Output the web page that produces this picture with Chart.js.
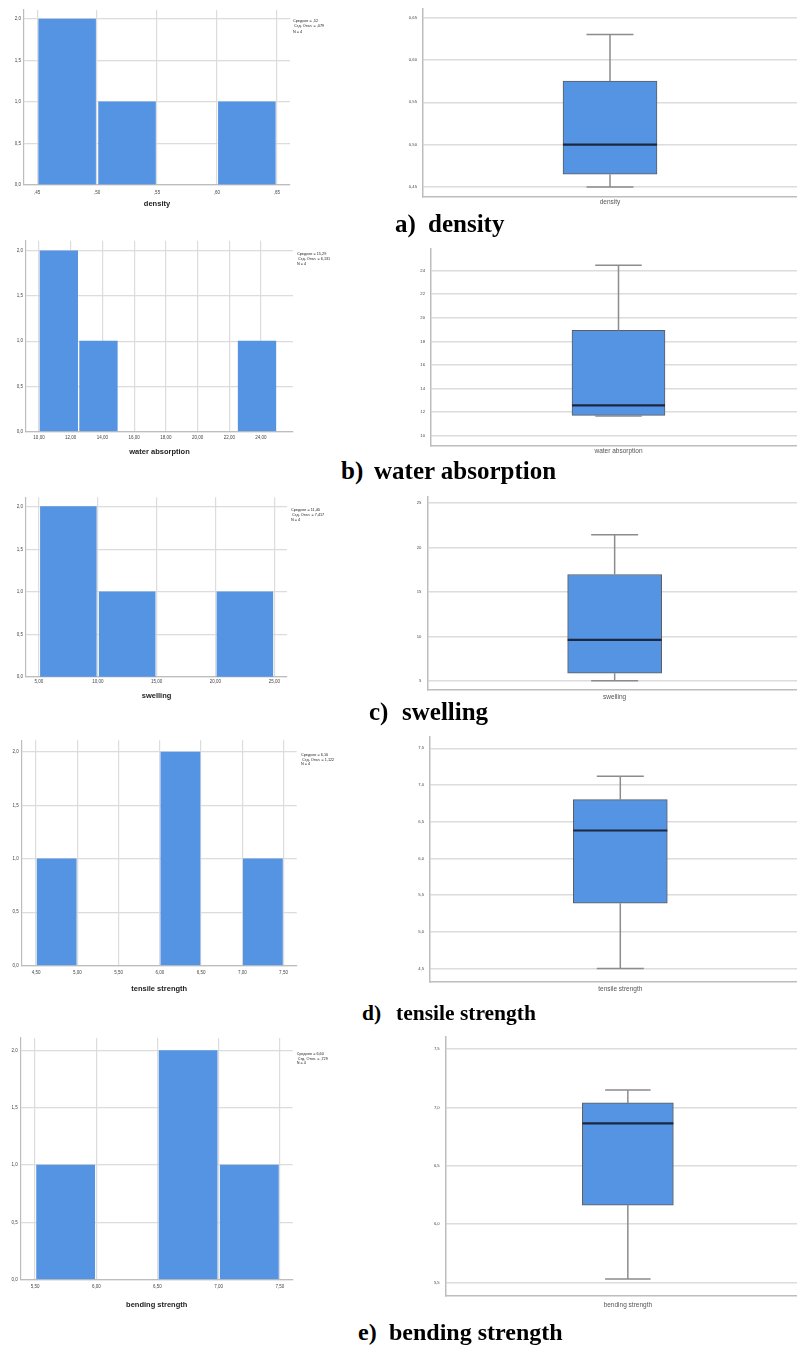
<!DOCTYPE html>
<html>
<head>
<meta charset="utf-8">
<script src="https://cdn.jsdelivr.net/npm/chart.js@4"></script>
<style>
  html, body { margin: 0; padding: 0; background: #fff; }
  body { width: 797px; height: 1347px; position: relative; overflow: hidden; }
  canvas { position: absolute; }
  .cap { position: absolute; font-family: "Liberation Serif", "Times New Roman", serif; font-weight: bold;
         white-space: pre; line-height: 1; color: #000; }
</style>
</head>
<body>
<canvas id="histDensity"></canvas><canvas id="boxDensity"></canvas>
<canvas id="histWater"></canvas><canvas id="boxWater"></canvas>
<canvas id="histSwelling"></canvas><canvas id="boxSwelling"></canvas>
<canvas id="histTensile"></canvas><canvas id="boxTensile"></canvas>
<canvas id="histBending"></canvas><canvas id="boxBending"></canvas>

<div class="cap" style="left:395px;top:211px;font-size:25px">a)</div>
<div class="cap" style="left:428px;top:211px;font-size:25px">density</div>
<div class="cap" style="left:341px;top:458px;font-size:25px">b)</div>
<div class="cap" style="left:374px;top:458px;font-size:25px">water absorption</div>
<div class="cap" style="left:369px;top:699px;font-size:25px">c)</div>
<div class="cap" style="left:402px;top:699px;font-size:25px">swelling</div>
<div class="cap" style="left:362px;top:1003px;font-size:21.5px">d)</div>
<div class="cap" style="left:396px;top:1003px;font-size:21.5px">tensile strength</div>
<div class="cap" style="left:358px;top:1320px;font-size:24px">e)</div>
<div class="cap" style="left:389px;top:1320px;font-size:24px">bending strength</div>

<script>
// ---- frequency axis shared by all histograms ----
const countTicks = [0, 0.5, 1, 1.5, 2];
const countLabels = ['0,0', '0,5', '1,0', '1,5', '2,0'];

// ---- density ----
const densityBins = [0.475, 0.525, 0.575, 0.625];
const densityCounts = [2, 1, 0, 1];
const densityTicks = [0.45, 0.50, 0.55, 0.60, 0.65];
const densityTickLabels = [',45', ',50', ',55', ',60', ',65'];
const densityStats = ['Среднее = ,52', ' Стд. Откл. = ,079', 'N = 4'];
const densityBox = [0.45, 0.465, 0.50, 0.575, 0.63];          // min, Q1, median, Q3, max
const densityBoxTicks = [0.45, 0.50, 0.55, 0.60, 0.65];
const densityBoxLabels = ['0,45', '0,50', '0,55', '0,60', '0,65'];

// ---- water absorption ----
const waterBins = [11.25, 13.75, 16.25, 18.75, 21.25, 23.75];
const waterCounts = [2, 1, 0, 0, 0, 1];
const waterTicks = [10, 12, 14, 16, 18, 20, 22, 24];
const waterTickLabels = ['10,00', '12,00', '14,00', '16,00', '18,00', '20,00', '22,00', '24,00'];
const waterStats = ['Среднее = 15,29', ' Стд. Откл. = 6,131', 'N = 4'];
const waterBox = [11.68, 11.73, 12.57, 18.93, 24.45];
const waterBoxTicks = [10, 12, 14, 16, 18, 20, 22, 24];
const waterBoxLabels = ['10', '12', '14', '16', '18', '20', '22', '24'];

// ---- swelling ----
const swellingBins = [7.5, 12.5, 17.5, 22.5];
const swellingCounts = [2, 1, 0, 1];
const swellingTicks = [5, 10, 15, 20, 25];
const swellingTickLabels = ['5,00', '10,00', '15,00', '20,00', '25,00'];
const swellingStats = ['Среднее = 11,40', ' Стд. Откл. = 7,417', 'N = 4'];
const swellingBox = [5.0, 5.86, 9.6, 16.97, 21.44];
const swellingBoxTicks = [5, 10, 15, 20, 25];
const swellingBoxLabels = ['5', '10', '15', '20', '25'];

// ---- tensile strength ----
const tensileBins = [4.75, 5.25, 5.75, 6.25, 6.75, 7.25];
const tensileCounts = [1, 0, 0, 2, 0, 1];
const tensileTicks = [4.5, 5.0, 5.5, 6.0, 6.5, 7.0, 7.5];
const tensileTickLabels = ['4,50', '5,00', '5,50', '6,00', '6,50', '7,00', '7,50'];
const tensileStats = ['Среднее = 6,10', ' Стд. Откл. = 1,122', 'N = 4'];
const tensileBox = [4.5, 5.39, 6.38, 6.80, 7.12];
const tensileBoxTicks = [4.5, 5.0, 5.5, 6.0, 6.5, 7.0, 7.5];
const tensileBoxLabels = ['4,5', '5,0', '5,5', '6,0', '6,5', '7,0', '7,5'];

// ---- bending strength ----
const bendingBins = [5.75, 6.25, 6.75, 7.25];
const bendingCounts = [1, 0, 2, 1];
const bendingTicks = [5.5, 6.0, 6.5, 7.0, 7.5];
const bendingTickLabels = ['5,50', '6,00', '6,50', '7,00', '7,50'];
const bendingStats = ['Среднее = 6,60', ' Стд. Откл. = ,729', 'N = 4'];
const bendingBox = [5.53, 6.164, 6.865, 7.04, 7.15];
const bendingBoxTicks = [5.5, 6.0, 6.5, 7.0, 7.5];
const bendingBoxLabels = ['5,5', '6,0', '6,5', '7,0', '7,5'];

// ---- styling ----
const SANS = '"Liberation Sans", Arial, sans-serif';
const BAR = '#5594e2';
const GRID = '#dcdcdc';
const AXIS = '#bdbdbd';

// Stats block printed to the right of each histogram
const statsText = {
  id: 'statsText',
  afterDraw(chart, args, opts) {
    if (!opts || !opts.lines) return;
    const ctx = chart.ctx;
    ctx.save();
    ctx.font = '3.8px ' + SANS;
    ctx.fillStyle = '#222';
    ctx.textBaseline = 'middle';
    ctx.textAlign = 'left';
    opts.lines.forEach((t, i) => ctx.fillText(t, opts.x, opts.ys[i]));
    ctx.restore();
  }
};

// Whiskers, caps and median drawn on top of the floating Q1–Q3 bar
const boxWhiskers = {
  id: 'boxWhiskers',
  afterDatasetsDraw(chart, args, opts) {
    if (!opts || !opts.stats) return;
    const [mn, q1, med, q3, mx] = opts.stats;
    const bar = chart.getDatasetMeta(0).data[0];
    const { x, width } = bar.getProps(['x', 'width'], true);
    const y = chart.scales.y;
    const ctx = chart.ctx;
    const half = width / 2, cap = width * 0.25;
    ctx.save();
    ctx.strokeStyle = '#8c8c8c';
    ctx.lineWidth = 1.5;
    ctx.beginPath();
    ctx.moveTo(x, y.getPixelForValue(mx)); ctx.lineTo(x, y.getPixelForValue(q3));
    ctx.moveTo(x, y.getPixelForValue(q1)); ctx.lineTo(x, y.getPixelForValue(mn));
    ctx.moveTo(x - cap, y.getPixelForValue(mx)); ctx.lineTo(x + cap, y.getPixelForValue(mx));
    ctx.moveTo(x - cap, y.getPixelForValue(mn)); ctx.lineTo(x + cap, y.getPixelForValue(mn));
    ctx.stroke();
    ctx.strokeStyle = '#1c2740';
    ctx.lineWidth = 2.2;
    ctx.beginPath();
    ctx.moveTo(x - half, y.getPixelForValue(med)); ctx.lineTo(x + half, y.getPixelForValue(med));
    ctx.stroke();
    ctx.restore();
  }
};

function place(cv, r) {
  cv.style.left = r[0] + 'px';
  cv.style.top = r[1] + 'px';
  cv.width = Math.round(r[2] - r[0]);
  cv.height = Math.round(r[3] - r[1]);
}

function drawHistogram(id, L, d) {
  const cv = document.getElementById(id);
  place(cv, L.canvas);
  const [cl, ct, cr, cb] = L.canvas;
  const [pl, pt, pr, pb] = L.plot;
  return new Chart(cv, {
    type: 'bar',
    data: {
      datasets: [{
        data: d.bins.map((x, i) => ({ x: x, y: d.counts[i] })),
        // empty bins keep their slot for the bar width but are not painted
        backgroundColor: c => (c.raw && c.raw.y > 0) ? BAR : 'rgba(0,0,0,0)',
        borderWidth: 0,
        barThickness: 'flex',
        categoryPercentage: 1,
        barPercentage: 0.95
      }]
    },
    options: {
      responsive: false, animation: false, devicePixelRatio: 1,
      layout: { padding: { left: 0, top: pt - ct, right: cr - pr, bottom: 0 } },
      plugins: {
        legend: { display: false }, tooltip: { enabled: false },
        statsText: { lines: d.stats, x: L.statsX - cl, ys: L.statsY.map(v => v - ct) }
      },
      scales: {
        x: {
          type: 'linear', min: L.xMin, max: L.xMax, offset: false,
          grid: { offset: false, color: GRID, lineWidth: 1.2, drawTicks: false },
          border: { color: AXIS, width: 1.2 },
          afterBuildTicks: s => { s.ticks = d.ticks.map(v => ({ value: v })); },
          afterFit: s => { s.height = cb - pb; },
          ticks: { autoSkip: false, maxRotation: 0, padding: L.tickPad,
                   font: { size: 4.5, family: SANS }, color: '#444',
                   callback: (v, i) => d.tickLabels[i] },
          title: { display: true, text: d.title, padding: 0, color: '#222',
                   font: { size: 7.5, weight: 'bold', family: SANS, lineHeight: 1.2 } }
        },
        y: {
          min: 0, max: 2.11,
          grid: { color: GRID, lineWidth: 1.2, drawTicks: false },
          border: { color: AXIS, width: 1.2 },
          afterBuildTicks: s => { s.ticks = countTicks.map(v => ({ value: v })); },
          afterFit: s => { s.width = pl - cl; },
          ticks: { padding: 3, font: { size: 4.5, family: SANS }, color: '#444',
                   callback: (v, i) => countLabels[i] }
        }
      }
    },
    plugins: [statsText]
  });
}

function drawBox(id, L, d) {
  const cv = document.getElementById(id);
  place(cv, L.canvas);
  const [cl, ct, cr, cb] = L.canvas;
  const [pl, pt, pr, pb] = L.plot;
  return new Chart(cv, {
    type: 'bar',
    data: {
      labels: [d.name],
      datasets: [{
        data: [[d.stats[1], d.stats[3]]],
        backgroundColor: BAR,
        borderColor: '#5c5c5c',
        borderWidth: 1,
        borderSkipped: false,
        barThickness: L.boxWidth
      }]
    },
    options: {
      responsive: false, animation: false, devicePixelRatio: 1,
      layout: { padding: { left: 0, top: pt - ct, right: cr - pr, bottom: 0 } },
      plugins: { legend: { display: false }, tooltip: { enabled: false }, boxWhiskers: { stats: d.stats } },
      scales: {
        x: {
          grid: { display: false, drawTicks: false },
          border: { color: AXIS, width: 1.5 },
          afterFit: s => { s.height = cb - pb; },
          ticks: { padding: L.tickPad, font: { size: 6.5, family: SANS }, color: '#555' }
        },
        y: {
          min: L.yMin, max: L.yMax,
          grid: { color: GRID, lineWidth: 1.5, drawTicks: false },
          border: { color: AXIS, width: 1.5 },
          afterBuildTicks: s => { s.ticks = d.ticks.map(v => ({ value: v })); },
          afterFit: s => { s.width = pl - cl; },
          ticks: { padding: 6, font: { size: 4.2, family: SANS }, color: '#444',
                   callback: (v, i) => d.tickLabels[i] }
        }
      }
    },
    plugins: [boxWhiskers]
  });
}

// ---- histograms (left column) ----
drawHistogram('histDensity',
  { canvas: [0, 0, 400, 207.5], plot: [24, 9.9, 290, 184.3], xMin: 0.439, xMax: 0.661, tickPad: 5,
    statsX: 293, statsY: [21, 26.3, 31.6] },
  { bins: densityBins, counts: densityCounts, ticks: densityTicks, tickLabels: densityTickLabels,
    stats: densityStats, title: 'density' });

drawHistogram('histWater',
  { canvas: [0, 232, 400, 455.5], plot: [26, 240.8, 293, 431], xMin: 9.18, xMax: 26.02, tickPad: 3.3,
    statsX: 297, statsY: [254, 259, 264] },
  { bins: waterBins, counts: waterCounts, ticks: waterTicks, tickLabels: waterTickLabels,
    stats: waterStats, title: 'water absorption' });

drawHistogram('histSwelling',
  { canvas: [0, 488, 400, 700.2], plot: [26, 497.3, 287, 677.3], xMin: 3.9, xMax: 26.08, tickPad: 2,
    statsX: 291, statsY: [510, 515, 520] },
  { bins: swellingBins, counts: swellingCounts, ticks: swellingTicks, tickLabels: swellingTickLabels,
    stats: swellingStats, title: 'swelling' });

drawHistogram('histTensile',
  { canvas: [0, 730, 400, 992.5], plot: [21.7, 740.3, 296.7, 965], xMin: 4.326, xMax: 7.66, tickPad: 4.3,
    statsX: 301, statsY: [755, 759.7, 764.3] },
  { bins: tensileBins, counts: tensileCounts, ticks: tensileTicks, tickLabels: tensileTickLabels,
    stats: tensileStats, title: 'tensile strength' });

drawHistogram('histBending',
  { canvas: [0, 1025, 400, 1308.8], plot: [20.7, 1038.1, 292.7, 1279.3], xMin: 5.383, xMax: 7.604, tickPad: 4.7,
    statsX: 296.7, statsY: [1054.3, 1058.5, 1062.7] },
  { bins: bendingBins, counts: bendingCounts, ticks: bendingTicks, tickLabels: bendingTickLabels,
    stats: bendingStats, title: 'bending strength' });

// ---- box plots (right column) ----
drawBox('boxDensity',
  { canvas: [380, 0, 797, 215], plot: [423, 8, 797, 197], yMin: 0.4382, yMax: 0.6606, tickPad: 1.8, boxWidth: 94 },
  { name: 'density', stats: densityBox, ticks: densityBoxTicks, tickLabels: densityBoxLabels });

drawBox('boxWater',
  { canvas: [380, 240, 806, 462], plot: [431, 246.7, 806, 445.7], yMin: 9.16, yMax: 25.87, tickPad: 2.1, boxWidth: 93 },
  { name: 'water absorption', stats: waterBox, ticks: waterBoxTicks, tickLabels: waterBoxLabels });

drawBox('boxSwelling',
  { canvas: [380, 488, 802, 710], plot: [427.3, 494, 802, 690], yMin: 3.97, yMax: 25.74, tickPad: 3.5, boxWidth: 94 },
  { name: 'swelling', stats: swellingBox, ticks: swellingBoxTicks, tickLabels: swellingBoxLabels });

drawBox('boxTensile',
  { canvas: [380, 728, 811, 1000], plot: [430, 732, 810.6, 981.7], yMin: 4.32, yMax: 7.66, tickPad: 4.1, boxWidth: 94 },
  { name: 'tensile strength', stats: tensileBox, ticks: tensileBoxTicks, tickLabels: tensileBoxLabels });

drawBox('boxBending',
  { canvas: [380, 1028, 810, 1318], plot: [445.7, 1031, 810, 1295.7], yMin: 5.387, yMax: 7.609, tickPad: 6.1, boxWidth: 91 },
  { name: 'bending strength', stats: bendingBox, ticks: bendingBoxTicks, tickLabels: bendingBoxLabels });
</script>
</body>
</html>
